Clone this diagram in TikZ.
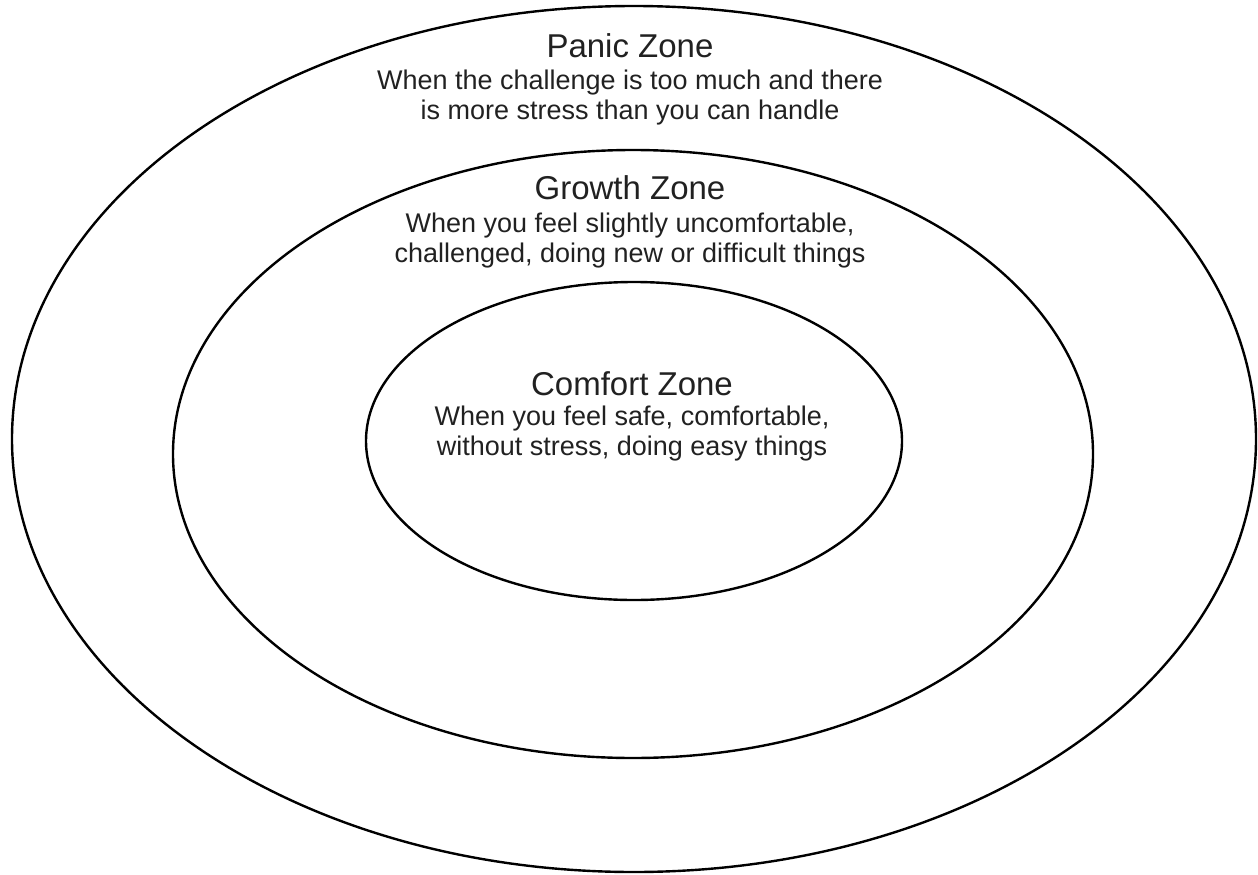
\documentclass[tikz,border=0pt]{standalone}
\usepackage{fontspec}
\setmainfont{Liberation Sans}
\begin{document}
\begin{tikzpicture}[x=1pt,y=-1pt,
  zone/.style={draw=black,line width=2.4pt},
  ttl/.style={font=\fontsize{33}{36}\selectfont,text=black!87,inner sep=0pt},
  body/.style={font=\fontsize{27}{30}\selectfont,align=center,text=black!87,inner sep=0pt}]
\useasboundingbox (0,0) rectangle (1258,875);
\draw[zone] (634,439) ellipse [x radius=622, y radius=433];
\draw[zone] (633,454) ellipse [x radius=460, y radius=304];
\draw[zone] (634,441) ellipse [x radius=268, y radius=159];
\node[ttl] (pt) at (630,46) {Panic Zone};
\node[body] (pb) at (630,98) {When the challenge is too much and there\\is more stress than you can handle};
\node[ttl] (gt) at (630,188) {Growth Zone};
\node[body] (gb) at (630,241) {When you feel slightly uncomfortable,\\challenged, doing new or difficult things};
\node[ttl] (ct) at (632,384) {Comfort Zone};
\node[body] (cb) at (632,434) {When you feel safe, comfortable,\\without stress, doing easy things};
\end{tikzpicture}
\end{document}
